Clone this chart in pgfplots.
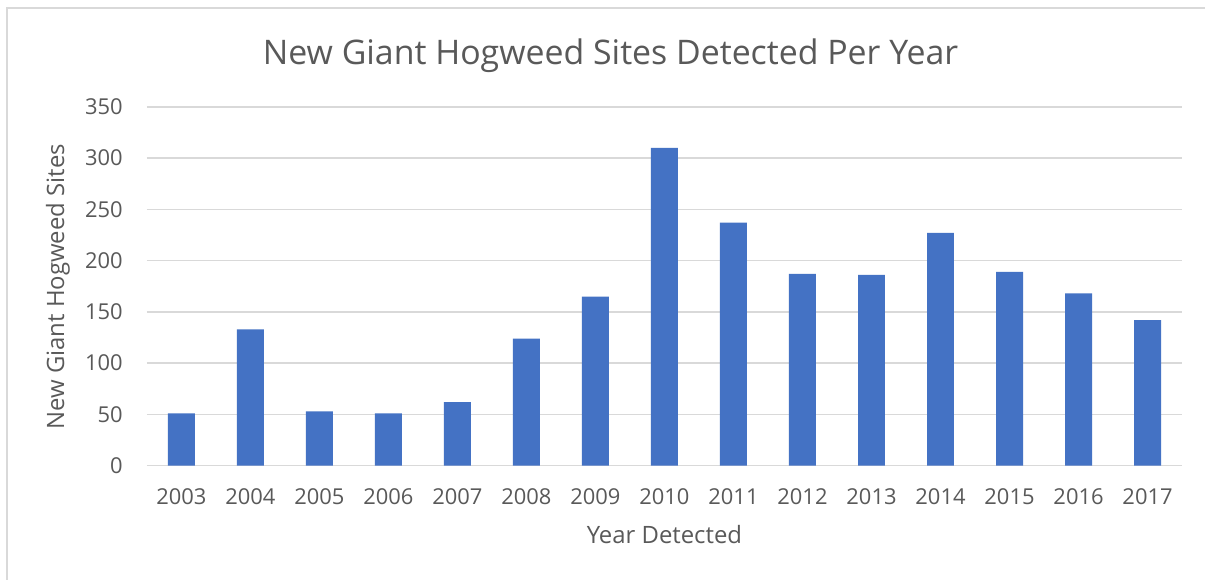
\documentclass[border=0pt]{standalone}
\usepackage{pgfplots}
\pgfplotsset{compat=1.18}
\usepackage{fontspec}
\setmainfont{Open Sans}
\definecolor{txt}{HTML}{595959}
\definecolor{gridc}{HTML}{D9D9D9}
\definecolor{barc}{HTML}{4472C4}
\begin{document}
\begin{tikzpicture}[x=1bp,y=1bp]
\path[fill=white] (0,0) rectangle (1206,580);
\draw[gridc, line width=2bp] (7,0) -- (7,572) -- (1206,572);
\begin{axis}[
  at={(147bp,114bp)}, anchor=south west,
  scale only axis, width=1036bp, height=359bp,
  xmin=-0.5, xmax=14.5, ymin=0, ymax=350,
  ybar, bar width=27bp,
  axis line style={draw=none},
  xmajorgrids=false, ymajorgrids=true,
  grid style={draw=gridc, line width=1.5bp},
  major tick length=0pt,
  xtick=data,
  xticklabels={2003,2004,2005,2006,2007,2008,2009,2010,2011,2012,2013,2014,2015,2016,2017},
  ytick={0,50,...,350},
  /pgf/number format/assume math mode=true,
  ticklabel style={font=\fontsize{22}{26}\selectfont, text=txt},
  xticklabel style={anchor=base, yshift=-39bp, inner sep=0pt},
  yticklabel style={anchor=east, xshift=-24bp, inner sep=0pt},
  clip=false,
]
\addplot[fill=barc, draw=none] coordinates {
(0,51) (1,133) (2,53) (3,51) (4,62) (5,124) (6,165) (7,310) (8,237) (9,187) (10,186) (11,227) (12,189) (13,168) (14,142)
};
\end{axis}
\node[anchor=base, text=txt, font=\fontsize{34}{40}\selectfont, inner sep=0pt] at (611,515) {New Giant Hogweed Sites Detected Per Year};
\node[anchor=base, text=txt, font=\fontsize{24}{28}\selectfont, inner sep=0pt] at (665,36) {Year Detected};
\node[rotate=90, text=txt, font=\fontsize{24}{28}\selectfont, inner sep=0pt] at (58,293) {New Giant Hogweed Sites};
\end{tikzpicture}
\end{document}
